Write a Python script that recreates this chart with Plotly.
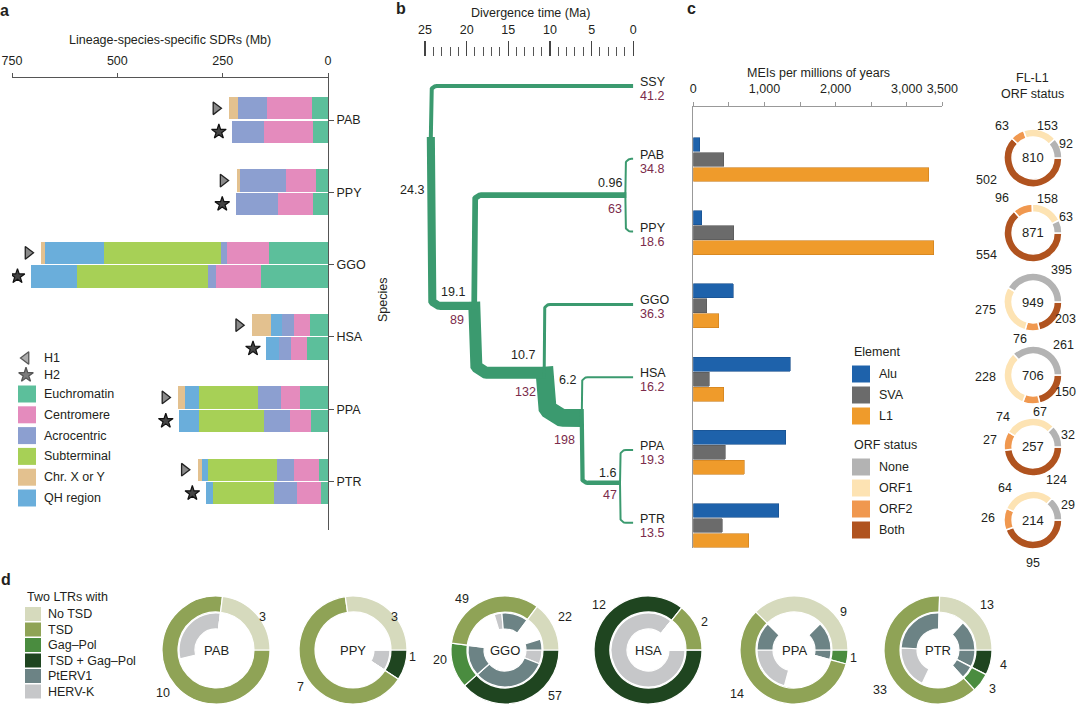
import math
import plotly.graph_objects as go

W, H = 1080, 707
FONT = "Liberation Sans, Arial, Helvetica, sans-serif"
INK = "#231f20"
MAROON = "#7b2b4b"
GREEN = "#3b9a6f"

# ---------------- panel a data (Mb) ----------------
sdr_species = ["PAB", "PPY", "GGO", "HSA", "PPA", "PTR"]
euchromatin_h1 = [37, 28, 139, 43, 66, 21]
euchromatin_h2 = [35, 36, 159, 51, 40, 17]
centromere_h1 = [108, 72, 101, 38, 45, 59]
centromere_h2 = [116, 83, 107, 38, 50, 57]
acrocentric_h1 = [69, 108, 13, 28, 54, 40]
acrocentric_h2 = [76, 100, 20, 28, 62, 54]
subterminal_h1 = [0, 0, 278, 0, 142, 164]
subterminal_h2 = [0, 0, 309, 0, 154, 146]
qh_region_h1 = [0, 0, 140, 27, 32, 16]
qh_region_h2 = [0, 0, 110, 29, 47, 16]
chr_xy_h1 = [20, 9, 9, 44, 16, 9]
chr_xy_h2 = [0, 0, 0, 0, 0, 0]
sdr_ticks = [0, 250, 500, 750]

# ---------------- panel b data ----------------
tree_leaves = ["SSY", "PAB", "PPY", "GGO", "HSA", "PPA", "PTR"]
leaf_values = [41.2, 34.8, 18.6, 36.3, 16.2, 19.3, 13.5]
node_names = ["root", "n19", "n096", "n107", "n62", "n16"]
node_ages = [24.3, 19.1, 0.96, 10.7, 6.2, 1.6]
node_counts = [None, 89, 63, 132, 198, 47]
node_children = [["SSY", "n19"], ["n096", "n107"], ["PAB", "PPY"],
                 ["GGO", "n62"], ["HSA", "n16"], ["PPA", "PTR"]]
time_ticks = [0, 5, 10, 15, 20, 25]

# ---------------- panel c data ----------------
mei_species = ["PAB", "PPY", "GGO", "HSA", "PPA", "PTR"]
mei_alu = [94, 117, 562, 1364, 1298, 1204]
mei_sva = [431, 572, 187, 225, 450, 408]
mei_l1 = [3313, 3383, 356, 431, 717, 778]
mei_tickvals = [0, 500, 1000, 1500, 2000, 2500, 3000, 3500]
mei_ticktext = ["0", "", "1,000", "", "2,000", "", "3,000", "3,500"]
orf_none = [92, 63, 395, 261, 32, 29]
orf_orf1 = [153, 158, 275, 228, 74, 64]
orf_orf2 = [63, 96, 76, 67, 27, 26]
orf_both = [502, 554, 203, 150, 124, 95]

# ---------------- panel d data ----------------
ltr_species = ["PAB", "PPY", "GGO", "HSA", "PPA", "PTR"]
ltr_no_tsd = [3, 3, 22, 0, 9, 13]
ltr_tsd = [10, 7, 49, 2, 14, 33]
ltr_gag_pol = [0, 0, 20, 0, 1, 3]
ltr_tsd_gag_pol = [0, 1, 57, 12, 0, 4]
hervk_tsd_gag_pol = [0, 1, 9, 12, 0, 0]
hervk_gag_pol = [0, 0, 0, 0, 0, 0]
hervk_tsd = [4, 0, 5, 0, 5, 10]
hervk_no_tsd = [0, 0, 0, 0, 0, 0]
pterv1_tsd_gag_pol = [0, 0, 48, 0, 0, 4]
pterv1_gag_pol = [0, 0, 20, 0, 1, 3]
pterv1_tsd = [0, 0, 17, 0, 3, 13]
pterv1_no_tsd = [0, 0, 7, 0, 3, 7]

# ---------------- styles ----------------
REG_COL = {"Euchromatin": "#5cbf9b", "Centromere": "#e48bbd", "Acrocentric": "#8c9fd0",
           "Subterminal": "#a7d056", "Chr. X or Y": "#e3c18f", "QH region": "#6aaedb"}
MEI_COL = {"Alu": "#1e62ab", "SVA": "#6b6b6b", "L1": "#ef9b2b"}
MEI_EDGE = {"Alu": "#174f8c", "SVA": "#555555", "L1": "#c97d1c"}
ORF_COL = {"None": "#b3b3b3", "ORF1": "#fde3b3", "ORF2": "#f0984f", "Both": "#b0531f"}
LTR_COL = {"No TSD": "#d6dabd", "TSD": "#8fa356", "Gag–Pol": "#4a8c3f",
           "TSD + Gag–Pol": "#1f4520", "PtERV1": "#6c8385", "HERV-K": "#c6c7c9"}

fig = go.Figure()
ann = []
shapes = []


def text(x, y, s, size=12.5, color=INK, xanchor="center", yanchor="middle", angle=0):
    ann.append(dict(x=x / W, y=1 - y / H, xref="paper", yref="paper", text=s, showarrow=False,
                    font=dict(size=size, color=color, family=FONT), xanchor=xanchor,
                    yanchor=yanchor, textangle=angle))


def swatch(x0, y0, w, h, col):
    shapes.append(dict(type="rect", xref="x4", yref="y4", x0=x0, x1=x0 + w, y0=y0, y1=y0 + h,
                       fillcolor=col, line=dict(width=0), layer="above"))


# ======================= panel a =======================
HAP_OFF, BAR_W = 0.1625, 0.31
y_h1 = [i - HAP_OFF for i in range(len(sdr_species))]
y_h2 = [i + HAP_OFF for i in range(len(sdr_species))]
stack = [("Euchromatin", euchromatin_h1, euchromatin_h2), ("Centromere", centromere_h1, centromere_h2),
         ("Acrocentric", acrocentric_h1, acrocentric_h2), ("Subterminal", subterminal_h1, subterminal_h2),
         ("QH region", qh_region_h1, qh_region_h2), ("Chr. X or Y", chr_xy_h1, chr_xy_h2)]
for name, h1, h2 in stack:
    fig.add_trace(go.Bar(x=h1 + h2, y=y_h1 + y_h2, orientation="h", width=BAR_W, name=name,
                         marker=dict(color=REG_COL[name], line=dict(width=0)),
                         xaxis="x", yaxis="y", hoverinfo="skip"))
tot_h1 = [sum(s[1][i] for s in stack) for i in range(len(sdr_species))]
tot_h2 = [sum(s[2][i] for s in stack) for i in range(len(sdr_species))]
fig.add_trace(go.Scatter(x=[t + 32 for t in tot_h1], y=y_h1, mode="markers", xaxis="x", yaxis="y",
                         marker=dict(symbol="triangle-right", size=11, color="#8a8a8a",
                                     line=dict(color="#222", width=1.3)), hoverinfo="skip"))
fig.add_trace(go.Scatter(x=[t + 32 for t in tot_h2], y=y_h2, mode="markers", xaxis="x", yaxis="y",
                         marker=dict(symbol="star", size=11, color="#454545",
                                     line=dict(color="#111", width=1.2)), hoverinfo="skip"))

# legend a
fig.add_trace(go.Scatter(x=[26, 26], y=[358, 375], mode="markers", xaxis="x4", yaxis="y4",
                         marker=dict(symbol=["triangle-left", "star"], size=[11, 11],
                                     color=["#8a8a8a", "#454545"], line=dict(color="#111", width=1.3)),
                         hoverinfo="skip"))
text(42, 358, "H1", xanchor="left")
text(42, 375, "H2", xanchor="left")
legend_a = ["Euchromatin", "Centromere", "Acrocentric", "Subterminal", "Chr. X or Y", "QH region"]
for k, name in enumerate(legend_a):
    yc = 394 + k * 20.8
    swatch(18, yc - 8.5, 18, 17, REG_COL[name])
    text(42, yc, name, xanchor="left")

text(170, 40, "Lineage-species-specific SDRs (Mb)")
text(4, 10, "<b>a</b>", size=16, xanchor="center")

# ======================= panel b (tree) =======================
X0, X1 = 425.0, 633.3
KX = (X1 - X0) / 25.0
Y0, KY = 86.0, 72.8
YTOP, YBOT = 57.0, 545.0
node_rows = {"root": 0.70, "n19": 3.02, "n096": 1.5, "n107": 3.94, "n62": 4.56, "n16": 5.45}
leaf_widths = {"SSY": 4, "PAB": 2, "PPY": 2, "GGO": 3, "HSA": 2, "PPA": 2, "PTR": 2}
age_of = dict(zip(node_names, node_ages))
count_of = dict(zip(node_names, node_counts))
row_of = dict(node_rows)
for i, lf in enumerate(tree_leaves):
    age_of[lf] = 0.0
    row_of[lf] = i


def width_of(n):
    if n in leaf_widths:
        return leaf_widths[n]
    c = count_of[n]
    return 0 if c is None else c / 11.0


def apx(a):
    return X0 + (25 - a) * KX


def rpx(r):
    return Y0 + r * KY


branches = []
for p, kids in zip(node_names, node_children):
    xp, yj = apx(age_of[p]), rpx(row_of[p])
    for c in kids:
        xc, yc = apx(age_of[c]), rpx(row_of[c])
        w = width_of(c)
        d = 1 if yc > yj else -1
        ys = yj - d * width_of(p) / 2
        r = min(max(6, 1.2 * w), abs(yc - ys) * 0.8)
        pts = [(xp, ys)]
        for k in range(15):
            t = math.pi / 2 * k / 14
            pts.append((xp + r - r * math.cos(t), yc - d * r + d * r * math.sin(t)))
        pts.append((xc, yc))
        branches.append((w, pts))
branches.sort(key=lambda b: -b[0])
for w, pts in branches:
    fig.add_trace(go.Scatter(x=[25 - (px - X0) / KX for px, _ in pts],
                             y=[(py - Y0) / KY for _, py in pts], mode="lines",
                             line=dict(color=GREEN, width=w), xaxis="x2", yaxis="y2",
                             hoverinfo="skip"))

# leaf labels
for i, lf in enumerate(tree_leaves):
    ann.append(dict(x=0, y=i, xref="x2", yref="y2", text=lf, showarrow=False, xanchor="left",
                    yanchor="middle", xshift=5, yshift=4, font=dict(size=12.5, color=INK, family=FONT)))
    ann.append(dict(x=0, y=i, xref="x2", yref="y2", text=str(leaf_values[i]), showarrow=False,
                    xanchor="left", yanchor="middle", xshift=5, yshift=-10,
                    font=dict(size=12.5, color=MAROON, family=FONT)))
# node labels (pixel offsets from node, y down)
age_lab_off = {"root": (-19, 53), "n19": (-21, -14), "n107": (-21, -18), "n62": (-14, -38),
               "n16": (-12, -10), "n096": (-15, -12)}
cnt_lab_off = {"n19": (-17, 14), "n107": (-19, 19), "n62": (-17, 22), "n16": (-10, 12), "n096": (-10, 14)}
for n in node_names:
    dx, dy = age_lab_off[n]
    ann.append(dict(x=age_of[n], y=row_of[n], xref="x2", yref="y2", text=str(age_of[n]), showarrow=False,
                    xshift=dx, yshift=-dy, font=dict(size=12.5, color=INK, family=FONT)))
    if count_of[n] is not None:
        dx, dy = cnt_lab_off[n]
        ann.append(dict(x=age_of[n], y=row_of[n], xref="x2", yref="y2", text=str(count_of[n]),
                        showarrow=False, xshift=dx, yshift=-dy,
                        font=dict(size=12.5, color=MAROON, family=FONT)))
text(530, 13, "Divergence time (Ma)")
text(383, 300, "Species", angle=-90)
text(401, 9, "<b>b</b>", size=16)

# ======================= panel c =======================
MEI_OFF, MEI_W = 0.205, 0.19
for name, vals, off in [("Alu", mei_alu, -MEI_OFF), ("SVA", mei_sva, 0.0), ("L1", mei_l1, MEI_OFF)]:
    fig.add_trace(go.Bar(x=vals, y=[i + off for i in range(len(mei_species))], orientation="h",
                         width=MEI_W, name=name, xaxis="x3", yaxis="y3", hoverinfo="skip",
                         marker=dict(color=MEI_COL[name], line=dict(color=MEI_EDGE[name], width=0.6))))
text(818, 73, "MEIs per millions of years")
text(691, 9, "<b>c</b>", size=16)

# legend c
text(852, 352, "Element", xanchor="left")
for k, name in enumerate(["Alu", "SVA", "L1"]):
    yc = 374 + k * 21
    swatch(852, yc - 8.5, 18, 17, MEI_COL[name])
    text(877, yc, name, xanchor="left")
text(852, 445, "ORF status", xanchor="left")
for k, name in enumerate(["None", "ORF1", "ORF2", "Both"]):
    yc = 467 + k * 21
    swatch(852, yc - 8.5, 18, 17, ORF_COL[name])
    text(877, yc, name, xanchor="left")

# FL-L1 donuts
text(1032, 78, "FL-L1")
text(1032, 94, "ORF status")
ORF_CX, ORF_R = 1033, 29
ORF_CY = [158, 233, 302, 375, 447, 520]
orf_lab_off = [
    {"None": (33, -14), "ORF1": (14, -32), "ORF2": (-31, -32), "Both": (-47, 22)},
    {"None": (33, -16), "ORF1": (14, -34), "ORF2": (-31, -35), "Both": (-47, 22)},
    {"None": (28, -32), "ORF1": (-48, 8), "ORF2": (-13, 37), "Both": (32, 17)},
    {"None": (30, -30), "ORF1": (-48, 2), "ORF2": (7, 37), "Both": (32, 17)},
    {"None": (35, -12), "ORF1": (-30, -30), "ORF2": (-43, -7), "Both": (23, 33)},
    {"None": (35, -15), "ORF1": (-28, -32), "ORF2": (-45, -2), "Both": (0, 43)},
]
for i, sp in enumerate(mei_species):
    vals = {"Both": orf_both[i], "ORF2": orf_orf2[i], "ORF1": orf_orf1[i], "None": orf_none[i]}
    order = ["Both", "ORF2", "ORF1", "None"]
    cy = ORF_CY[i]
    fig.add_trace(go.Pie(values=[vals[k] for k in order], labels=order, sort=False,
                         direction="clockwise", rotation=90, hole=0.72, textinfo="none",
                         textposition="none", hoverinfo="skip", showlegend=False,
                         marker=dict(colors=[ORF_COL[k] for k in order], line=dict(color="white", width=1.5)),
                         domain=dict(x=[(ORF_CX - ORF_R) / W, (ORF_CX + ORF_R) / W],
                                     y=[1 - (cy + ORF_R) / H, 1 - (cy - ORF_R) / H])))
    text(ORF_CX, cy, str(sum(vals.values())), size=13)
    for k in order:
        dx, dy = orf_lab_off[i][k]
        text(ORF_CX + dx, cy + dy, str(vals[k]))

# ======================= panel d =======================
text(6, 579, "<b>d</b>", size=16)
text(25, 597, "Two LTRs with", xanchor="left")
for k, name in enumerate(["No TSD", "TSD", "Gag–Pol", "TSD + Gag–Pol", "PtERV1", "HERV-K"]):
    yc = 614 + k * 15.5
    swatch(25, yc - 7, 16, 14, LTR_COL[name])
    text(46, yc, name, xanchor="left")

D_CX = [216, 353, 505, 648, 794, 938]
D_CY = 650
R_OUT, R_MID, R_IN = 54, 38, 21
ltr_lab_off = [
    {"No TSD": (46, -33), "TSD": (-53, 43)},
    {"No TSD": (41, -33), "TSD": (-53, 37), "TSD + Gag–Pol": (59, 7)},
    {"No TSD": (60, -33), "TSD": (-43, -51), "Gag–Pol": (-65, 10), "TSD + Gag–Pol": (50, 46)},
    {"TSD": (56, -28), "TSD + Gag–Pol": (-49, -45)},
    {"No TSD": (49, -38), "TSD": (-57, 44), "Gag–Pol": (59, 8)},
    {"No TSD": (49, -45), "TSD": (-58, 40), "Gag–Pol": (54, 39), "TSD + Gag–Pol": (65, 15)},
]
for i, sp in enumerate(ltr_species):
    cx = D_CX[i]
    cats = ["TSD + Gag–Pol", "Gag–Pol", "TSD", "No TSD"]
    outer = [ltr_tsd_gag_pol[i], ltr_gag_pol[i], ltr_tsd[i], ltr_no_tsd[i]]
    hk = [hervk_tsd_gag_pol[i], hervk_gag_pol[i], hervk_tsd[i], hervk_no_tsd[i]]
    pt = [pterv1_tsd_gag_pol[i], pterv1_gag_pol[i], pterv1_tsd[i], pterv1_no_tsd[i]]
    fig.add_trace(go.Pie(values=outer, labels=cats, sort=False, direction="clockwise", rotation=90,
                         hole=R_MID / R_OUT, textinfo="none", textposition="none", hoverinfo="skip",
                         showlegend=False,
                         marker=dict(colors=[LTR_COL[c] for c in cats], line=dict(color="white", width=1.2)),
                         domain=dict(x=[(cx - R_OUT) / W, (cx + R_OUT) / W],
                                     y=[1 - (D_CY + R_OUT) / H, 1 - (D_CY - R_OUT) / H])))
    in_vals, in_labs, in_cols = [], [], []
    for c, tot, a, b in zip(cats, outer, hk, pt):
        in_vals += [tot - a - b, a, b]
        in_labs += [c + " empty", c + " HERV-K", c + " PtERV1"]
        in_cols += ["rgba(255,255,255,0)", LTR_COL["HERV-K"], LTR_COL["PtERV1"]]
    r2 = R_MID - 1
    fig.add_trace(go.Pie(values=in_vals, labels=in_labs, sort=False, direction="clockwise", rotation=90,
                         hole=R_IN / r2, textinfo="none", textposition="none", hoverinfo="skip",
                         showlegend=False,
                         marker=dict(colors=in_cols, line=dict(color="white", width=1.2)),
                         domain=dict(x=[(cx - r2) / W, (cx + r2) / W],
                                     y=[1 - (D_CY + r2) / H, 1 - (D_CY - r2) / H])))
    text(cx, D_CY, sp, size=13)
    for c, v in zip(cats, outer):
        if v > 0:
            dx, dy = ltr_lab_off[i][c]
            text(cx + dx, D_CY + dy, str(v))

# ======================= layout =======================
axis_common = dict(showgrid=False, zeroline=False, fixedrange=True, automargin=False)
fig.update_layout(
    width=W, height=H, autosize=False, margin=dict(l=0, r=0, t=0, b=0, pad=0),
    paper_bgcolor="white", plot_bgcolor="rgba(0,0,0,0)", barmode="stack", showlegend=False,
    font=dict(family=FONT, size=12.5, color=INK),
    xaxis=dict(domain=[12 / W, 328 / W], range=[750, 0], side="top", anchor="y", showline=True,
               linecolor="#555", linewidth=1, ticks="outside", ticklen=4, tickcolor="#555",
               tickvals=sdr_ticks, ticklabelstandoff=3, tickfont=dict(size=12.5), **axis_common),
    yaxis=dict(domain=[1 - 530 / H, 1 - 78 / H], range=[5.671, -0.581], anchor="x", side="right",
               showline=True, linecolor="#555", ticks="outside", ticklen=5, tickcolor="#555",
               tickvals=list(range(len(sdr_species))), ticktext=sdr_species, tickfont=dict(size=12.5),
               **axis_common),
    xaxis2=dict(domain=[X0 / W, X1 / W], range=[25, 0], side="top", anchor="y2", showline=False,
                ticks="outside", ticklen=15, tickwidth=1.3, tickcolor="#444", tickvals=time_ticks,
                ticklabelstandoff=2, tickfont=dict(size=12.5),
                minor=dict(tickvals=list(range(26)), ticklen=9, tickwidth=1, tickcolor="#555",
                           ticks="outside"), **axis_common),
    yaxis2=dict(domain=[1 - YBOT / H, 1 - YTOP / H], range=[(YBOT - Y0) / KY, (YTOP - Y0) / KY],
                anchor="x2", visible=False, **axis_common),
    xaxis3=dict(domain=[693.3 / W, 942.3 / W], range=[0, 3500], side="top", anchor="y3", showline=True,
                linecolor="#999", ticks="outside", ticklen=4, tickcolor="#999", tickvals=mei_tickvals,
                ticktext=mei_ticktext, ticklabelstandoff=4, tickfont=dict(size=12.5), **axis_common),
    yaxis3=dict(domain=[1 - 548 / H, 1 - 107 / H], range=[5.307, -0.717], anchor="x3", showline=True,
                linecolor="#999", showticklabels=False, ticks="", **axis_common),
    xaxis4=dict(domain=[0, 1], range=[0, W], anchor="y4", visible=False, **axis_common),
    yaxis4=dict(domain=[0, 1], range=[H, 0], anchor="x4", visible=False, **axis_common),
    annotations=ann, shapes=shapes,
)
fig.write_html("out.html", config={"displayModeBar": False, "staticPlot": True},
               post_script="document.body.style.margin='0';document.body.style.overflow='hidden';")
